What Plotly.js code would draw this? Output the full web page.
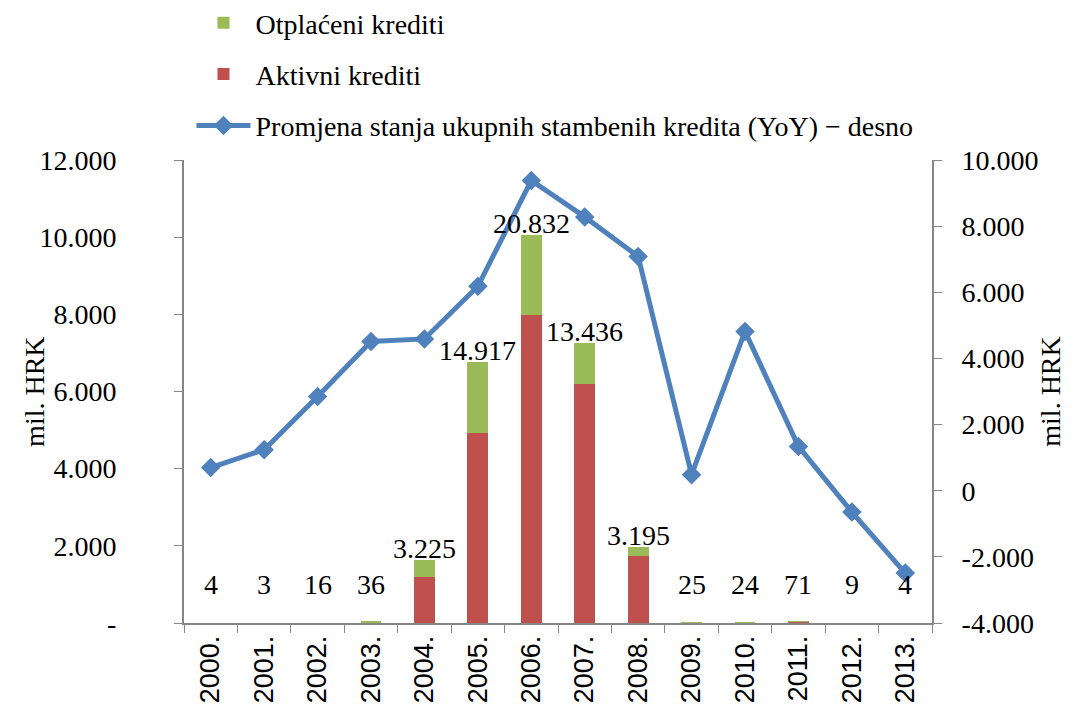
<!DOCTYPE html>
<html>
<head>
<meta charset="utf-8">
<script src="https://cdn.plot.ly/plotly-3.0.1.min.js"></script>
<style>html,body{margin:0;padding:0;background:#fff;}#chart{width:1081px;height:708px;}</style>
</head>
<body>
<div id="chart"></div>
<script>
// ---- data ----
const years = ['2000.','2001.','2002.','2003.','2004.','2005.','2006.','2007.','2008.','2009.','2010.','2011.','2012.','2013.'];
const aktivni   = [2, 2, 3, 5, 1200, 4930, 7980, 6190, 1735, 3, 3, 35, 3, 2];
const otplaceni = [2, 1, 5, 55, 430, 1840, 2070, 1055, 225, 15, 15, 5, 2, 1];
const promjena  = [700, 1240, 2850, 4515, 4590, 6180, 9380, 8280, 7085, 485, 4817, 1340, -645, -2490];
const barLabels = ['4','3','16','36','3.225','14.917','20.832','13.436','3.195','25','24','71','9','4'];
const leftTickVals  = [0, 2000, 4000, 6000, 8000, 10000, 12000];
const leftTickText  = ['-', '2.000', '4.000', '6.000', '8.000', '10.000', '12.000'];
const rightTickVals = [-4000, -2000, 0, 2000, 4000, 6000, 8000, 10000];
const rightTickText = ['-4.000', '-2.000', '0', '2.000', '4.000', '6.000', '8.000', '10.000'];

const serif = 'Liberation Serif';
const sans = 'Liberation Sans';
const axisCol = '#868686';

// positions of categories on a linear axis, derived from the category list
const xi = years.map((_, i) => i);
const boundaries = years.map((_, i) => i - 0.5).concat([years.length - 0.5]);

const traces = [
  {type:'bar', name:'Aktivni krediti', x: xi, y: aktivni, marker:{color:'#C0504D'},
   legendrank: 2, legendgroup:'b', hoverinfo:'skip'},
  {type:'bar', name:'Otplaćeni krediti', x: xi, y: otplaceni, marker:{color:'#9BBB59'},
   legendrank: 1, legendgroup:'a', hoverinfo:'skip'},
  {type:'scatter', mode:'lines+markers', name:'Promjena stanja ukupnih stambenih kredita (YoY) − desno',
   x: xi, y: promjena, yaxis:'y2', line:{color:'#4F81BD', width:5},
   marker:{symbol:'diamond', size:15, color:'#4F81BD'}, legendrank: 3, legendgroup:'c', hoverinfo:'skip'}
];

const annotations = xi.map((x, i) => ({
  x: x, y: Math.max(aktivni[i] + otplaceni[i], 700) + 300, xref:'x', yref:'y',
  text: barLabels[i], showarrow:false, yanchor:'middle',
  font:{family: serif, size: 28, color:'#000'}
}));
annotations.push({text:'mil. HRK', xref:'paper', yref:'paper', x:-0.2, y:0.5, textangle:-90,
  showarrow:false, xanchor:'center', yanchor:'middle', font:{family:serif, size:28, color:'#000'}});
annotations.push({text:'mil. HRK', xref:'paper', yref:'paper', x:1.158, y:0.5, textangle:-90,
  showarrow:false, xanchor:'center', yanchor:'middle', font:{family:serif, size:28, color:'#000'}});

const layout = {
  width:1081, height:708,
  paper_bgcolor:'#fff', plot_bgcolor:'#fff',
  font:{family:serif, size:28, color:'#000'},
  margin:{l:184, r:149, t:160, b:85, autoexpand:false},
  barmode:'stack', bargap:0.61,
  showlegend:true,
  legend:{x:0.01, y:1.35, xanchor:'left', yanchor:'top', font:{family:serif, size:28, color:'#000'},
          traceorder:'grouped', tracegroupgap:12, itemwidth:54, bgcolor:'rgba(0,0,0,0)'},
  xaxis:{type:'linear', range:[-0.5, years.length - 0.5], tickvals:xi, ticktext:years, ticks:'',
         minor:{tickvals:boundaries, ticks:'outside', ticklen:8, tickcolor:axisCol, showgrid:false},
         showline:true, linecolor:axisCol, linewidth:2, tickangle:-90, showgrid:false, zeroline:false,
         tickfont:{family:sans, size:27, color:'#000'}, fixedrange:true},
  yaxis:{range:[0,12000], tickvals:leftTickVals, ticktext:leftTickText, ticks:'outside', ticklen:8,
         tickcolor:axisCol, showline:true, linecolor:axisCol, linewidth:2, showgrid:false, zeroline:false,
         ticklabelstandoff:52, tickfont:{family:serif, size:28, color:'#000'}, fixedrange:true},
  yaxis2:{range:[-4000,10000], overlaying:'y', side:'right', tickvals:rightTickVals, ticktext:rightTickText,
          ticks:'outside', ticklen:8, tickcolor:axisCol, showline:true, linecolor:axisCol, linewidth:2,
          showgrid:false, zeroline:false, ticklabelstandoff:14, tickfont:{family:serif, size:28, color:'#000'},
          fixedrange:true},
  annotations: annotations,
  hovermode:false
};

Plotly.newPlot('chart', traces, layout, {displayModeBar:false, staticPlot:true});
</script>
</body>
</html>
